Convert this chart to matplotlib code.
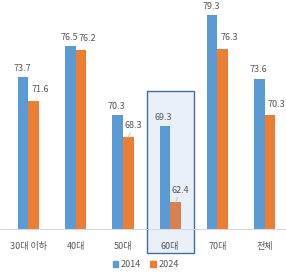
import matplotlib
matplotlib.use("Agg")
from matplotlib import pyplot as plt
from matplotlib.patches import Rectangle, Patch
import matplotlib.transforms as mtransforms
import numpy as np

plt.rcParams['font.family'] = ['Noto Sans CJK KR', 'DejaVu Sans']

categories = ['30대 이하', '40대', '50대', '60대', '70대', '전체']
vals_2014 = [73.7, 76.5, 70.3, 69.3, 79.3, 73.6]
vals_2024 = [71.6, 76.2, 68.3, 62.4, 76.3, 70.3]
series_names = ['2014', '2024']
highlight = '60대'

blue = '#5B9BD5'
orange = '#ED7D31'
orange_hl = '#D9804F'
text_gray = '#595959'

fig = plt.figure(figsize=(2.86, 2.74), dpi=100)
ax = fig.add_axes([0.0, 0.164, 1.0, 0.808])

x = np.arange(len(categories))
w = 0.225
hi = categories.index(highlight)

# highlight box behind the 60대 group
trans = mtransforms.blended_transform_factory(ax.transData, ax.transAxes)
box = Rectangle((hi - 0.5, -0.108), 1.0, 0.731, transform=trans,
                facecolor='#E9F0F9', edgecolor='#3F6FA8', linewidth=1.0,
                clip_on=False, zorder=0)
ax.add_patch(box)

ax.bar(x - w / 2, vals_2014, w, color=blue, zorder=2)
colors2 = [orange_hl if c == highlight else orange for c in categories]
ax.bar(x + w / 2, vals_2024, w, color=colors2, zorder=2)

ax.set_xlim(-0.6, 5.45)
ax.set_ylim(60, 80)

for i, v in enumerate(vals_2014):
    ax.annotate(f'{v}', (x[i] - w / 2, v), xytext=(-0.8, 3), textcoords='offset points',
                ha='center', va='bottom', fontsize=6.5, color=text_gray)

leader = ['50대', '60대']
for i, v in enumerate(vals_2024):
    if categories[i] in leader:
        ax.annotate(f'{v}', (x[i] + w / 2, v), xytext=(3.5, 5.5), textcoords='offset points',
                    ha='center', va='bottom', fontsize=6.5, color=text_gray,
                    arrowprops=dict(arrowstyle='-', color='#BFBFBF', lw=0.6,
                                    shrinkA=0, shrinkB=0))
    else:
        ax.annotate(f'{v}', (x[i] + w / 2, v), xytext=(4.5, 4.5), textcoords='offset points',
                    ha='center', va='bottom', fontsize=6.5, color=text_gray)

for s in ['top', 'right', 'left']:
    ax.spines[s].set_visible(False)
ax.spines['bottom'].set_color('#D9D9D9')
ax.spines['bottom'].set_linewidth(0.8)
ax.set_yticks([])
ax.set_xticks(x)
ax.set_xticklabels(categories, fontsize=6.5, color=text_gray)
ax.tick_params(axis='x', length=0, pad=9)
ax.patch.set_visible(False)

handles = [Patch(color=blue), Patch(color=orange)]
fig.legend(handles, series_names, loc='center', bbox_to_anchor=(0.51, 0.033),
           ncol=2, frameon=False, fontsize=6.5, handlelength=0.6, handleheight=0.6,
           handletextpad=0.3, columnspacing=1.0, labelcolor=text_gray)

fig.savefig('out.png', dpi=100)
